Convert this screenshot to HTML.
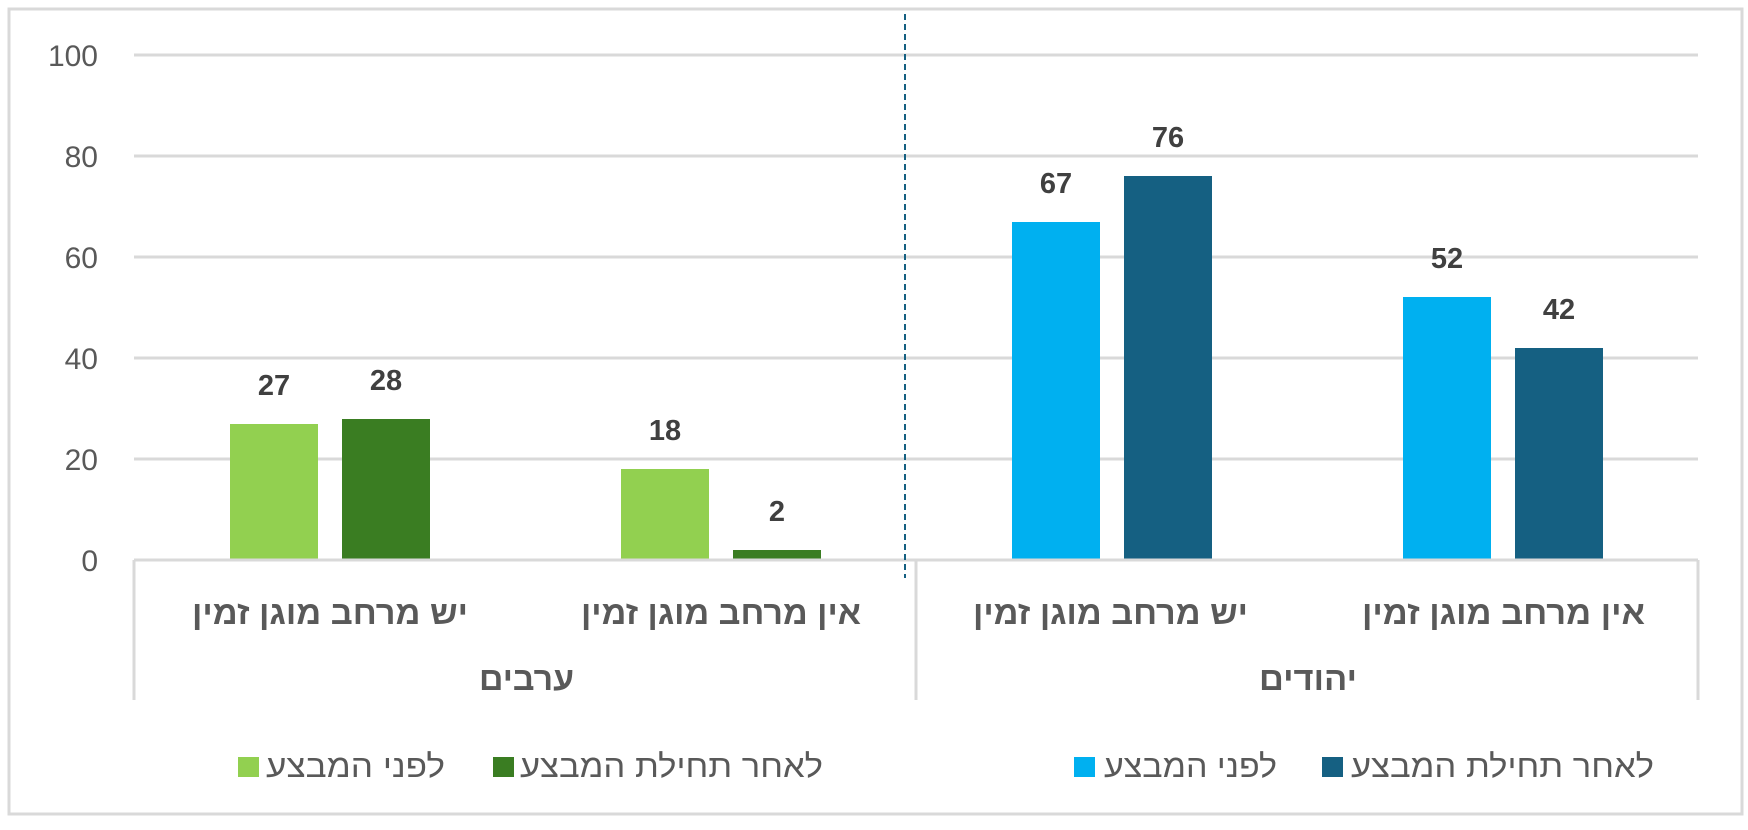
<!DOCTYPE html>
<html><head><meta charset="utf-8"><style>body{margin:0;background:#fff}</style></head><body>
<svg width="1748" height="825" xmlns="http://www.w3.org/2000/svg" font-family="'Liberation Sans','Noto Sans CJK SC',sans-serif">
<rect x="9" y="9" width="1733" height="805" fill="#fff" stroke="#d9d9d9" stroke-width="3"/>
<g stroke="#d9d9d9" stroke-width="3">
<line x1="134" y1="55" x2="1698" y2="55"/><line x1="134" y1="156" x2="1698" y2="156"/>
<line x1="134" y1="257" x2="1698" y2="257"/><line x1="134" y1="358" x2="1698" y2="358"/>
<line x1="134" y1="459" x2="1698" y2="459"/>
</g>
<g fill="#595959" font-size="30" text-anchor="end">
<text x="98" y="66">100</text><text x="98" y="167">80</text><text x="98" y="268">60</text>
<text x="98" y="369">40</text><text x="98" y="470">20</text><text x="98" y="571">0</text>
</g>
<rect x="230" y="424" width="88" height="136" fill="#92d050"/>
<rect x="342" y="419" width="88" height="141" fill="#3a7d22"/>
<rect x="621" y="469" width="88" height="91" fill="#92d050"/>
<rect x="733" y="550" width="88" height="10" fill="#3a7d22"/>
<rect x="1012" y="222" width="88" height="338" fill="#00b0f0"/>
<rect x="1124" y="176" width="88" height="384" fill="#156082"/>
<rect x="1403" y="297" width="88" height="263" fill="#00b0f0"/>
<rect x="1515" y="348" width="88" height="212" fill="#156082"/>
<g fill="#404040" font-size="29" font-weight="bold" text-anchor="middle">
<text x="274" y="395">27</text><text x="386" y="390">28</text>
<text x="665" y="440">18</text><text x="777" y="521">2</text>
<text x="1056" y="193">67</text><text x="1168" y="147">76</text>
<text x="1447" y="268">52</text><text x="1559" y="319">42</text>
</g>
<g stroke="#d9d9d9" stroke-width="3">
<line x1="134" y1="560" x2="1698" y2="560"/>
<line x1="134" y1="560" x2="134" y2="700"/><line x1="916" y1="560" x2="916" y2="700"/><line x1="1698" y1="560" x2="1698" y2="700"/>
</g>
<line x1="905" y1="14" x2="905" y2="578" stroke="#156082" stroke-width="2" stroke-dasharray="6,4"/>
<g fill="#595959" font-size="33" font-weight="bold">
<text x="192" y="624" textLength="276" lengthAdjust="spacingAndGlyphs">יש מרחב מוגן זמין</text>
<text x="581" y="624" textLength="280" lengthAdjust="spacingAndGlyphs">אין מרחב מוגן זמין</text>
<text x="973" y="624" textLength="275" lengthAdjust="spacingAndGlyphs">יש מרחב מוגן זמין</text>
<text x="1362" y="624" textLength="283" lengthAdjust="spacingAndGlyphs">אין מרחב מוגן זמין</text>
<text x="479" y="690" textLength="95" lengthAdjust="spacingAndGlyphs">ערבים</text>
<text x="1259" y="690" textLength="98" lengthAdjust="spacingAndGlyphs">יהודים</text>
</g>
<g font-size="32" fill="#595959">
<rect x="238" y="757" width="21" height="20" fill="#92d050"/>
<text x="266" y="777" textLength="179" lengthAdjust="spacingAndGlyphs">לפני המבצע</text>
<rect x="493" y="757" width="21" height="20" fill="#3a7d22"/>
<text x="520" y="777" textLength="303" lengthAdjust="spacingAndGlyphs">לאחר תחילת המבצע</text>
<rect x="1074" y="757" width="21" height="20" fill="#00b0f0"/>
<text x="1104" y="777" textLength="173" lengthAdjust="spacingAndGlyphs">לפני המבצע</text>
<rect x="1322" y="757" width="21" height="20" fill="#156082"/>
<text x="1351" y="777" textLength="303" lengthAdjust="spacingAndGlyphs">לאחר תחילת המבצע</text>
</g>
</svg>
</body></html>
